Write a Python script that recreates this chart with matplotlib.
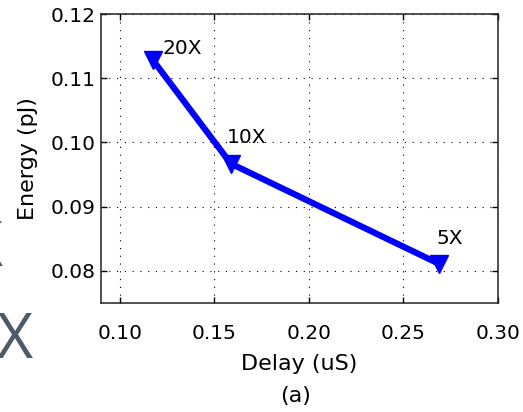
import matplotlib.pyplot as plt

# Energy vs. delay for three sizing factors
delay = [0.1175, 0.1587, 0.2688]
energy = [0.1128, 0.0967, 0.0811]
labels = ['20X', '10X', '5X']
label_offsets = [(6.5, 4.5), (-3, 15), (-2, 14)]  # points from each marker

xticks = [0.10, 0.15, 0.20, 0.25, 0.30]
yticks = [0.08, 0.09, 0.10, 0.11, 0.12]

plt.rcParams['font.family'] = 'DejaVu Sans'

fig = plt.figure(figsize=(5.23, 4.12), dpi=100)
ax = fig.add_axes([101 / 523, 1 - 303 / 412, 397 / 523, 289 / 412])

ax.plot(delay, energy, color='#0000ff', linewidth=4.5, marker='v',
        markersize=13, markerfacecolor='#0000ff', markeredgecolor='#0000ff',
        zorder=3)

for x, y, lab, off in zip(delay, energy, labels, label_offsets):
    ax.annotate(lab, (x, y), xytext=off, textcoords='offset points',
                ha='left', va='baseline', fontsize=14.5)

ax.set_xlim(0.09, 0.30)
ax.set_ylim(0.075, 0.12)
ax.set_xticks(xticks)
ax.set_yticks(yticks)
ax.set_xticklabels([f'{t:.2f}' for t in xticks])
ax.set_yticklabels([f'{t:.2f}' for t in yticks])

ax.grid(True, color='black', linestyle=(0, (1, 6)), linewidth=0.8)
ax.tick_params(direction='in', length=4, width=1, top=True, right=True,
               labelsize=14.5)
ax.tick_params(axis='x', pad=15)
ax.tick_params(axis='y', pad=4)
for sp in ax.spines.values():
    sp.set_linewidth(1.1)
    sp.set_color('#222222')

ax.set_xlabel('Delay (uS)', fontsize=16, labelpad=8)
ax.set_ylabel('Energy (pJ)', fontsize=16, labelpad=9)

fig.text(296 / 523, 1 - 396 / 412, '(a)', fontsize=16, ha='center', va='center')

# neighbouring panel lettering cut off at the left edge
fig.text(15 / 523, 1 - 358 / 412, 'X', family='Open Sans', fontsize=45,
         color='#4b5b6b', ha='center', va='baseline')
fig.text(-15 / 523, 1 - 266 / 412, 'X', family='Open Sans', fontsize=45,
         color='#4b5b6b', ha='center', va='baseline')

fig.savefig('out.png', dpi=100)
